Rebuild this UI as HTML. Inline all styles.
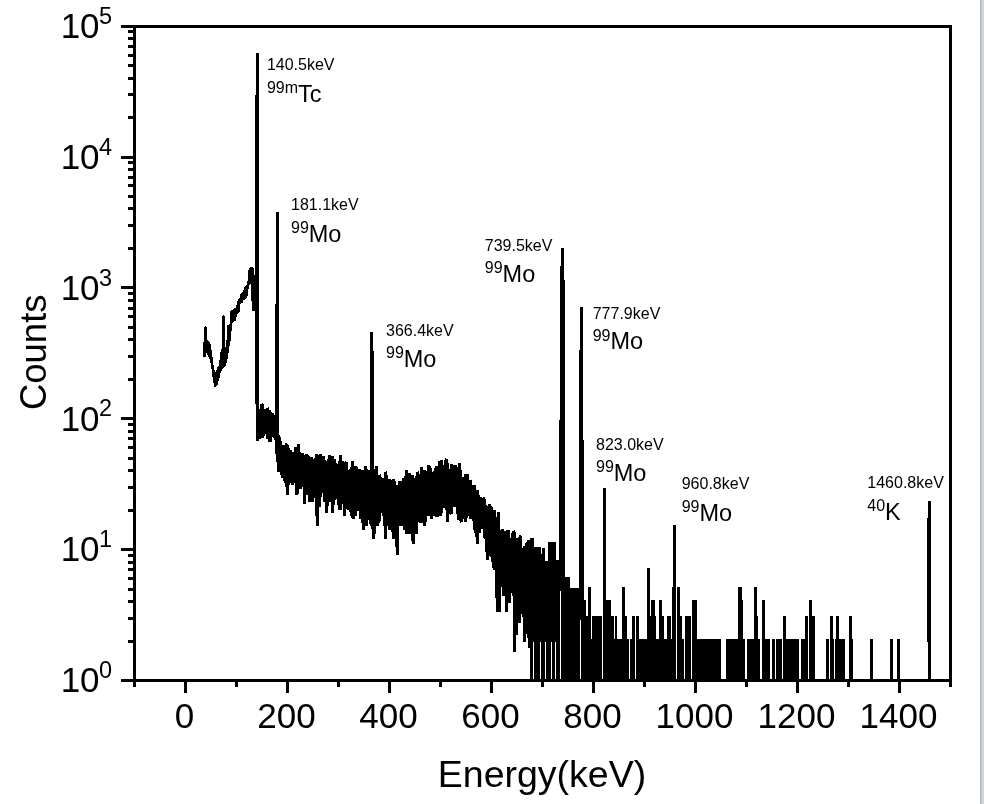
<!DOCTYPE html><html><head><meta charset="utf-8"><style>html,body{margin:0;padding:0;background:#fff;width:984px;height:804px;overflow:hidden}</style></head><body><svg width="984" height="804" viewBox="0 0 984 804" style="display:block;will-change:transform"><rect x="0" y="0" width="984" height="804" fill="#fff"/><rect x="980" y="0" width="1" height="804" fill="#b5b6b8"/><rect x="981" y="0" width="1" height="804" fill="#c4c6c8"/><rect x="982" y="0" width="2" height="804" fill="#d3d6d9"/><defs><clipPath id="pc"><rect x="134" y="26" width="816" height="654"/></clipPath></defs><path clip-path="url(#pc)" d="M257.5 441.0 257.5 409.8 L258.5 410.3 258.5 435.3 L259.5 439.3 259.5 412.3 L260.5 413.3 260.5 431.6 L261.5 433.8 261.5 404.2 L262.5 405.5 262.5 437.7 L263.5 433.8 263.5 411.3 L264.5 410.8 264.5 426.8 L265.5 432.3 265.5 413.3 L266.5 409.8 266.5 429.5 L267.5 438.5 267.5 407.8 L268.5 411.8 268.5 433.1 L269.5 441.8 269.5 410.8 L270.5 413.8 270.5 441.8 L271.5 431.6 271.5 415.4 L272.5 414.9 272.5 434.6 L273.5 434.6 273.5 418.2 L274.5 420.5 274.5 436.1 L275.5 439.3 275.5 414.9 L276.5 419.9 276.5 445.4 L277.5 462.3 277.5 428.8 L278.5 441.0 278.5 471.7 L279.5 463.6 279.5 437.7 L280.5 443.6 280.5 468.9 L281.5 474.7 281.5 446.3 L282.5 447.2 282.5 477.9 L283.5 466.2 283.5 447.2 L284.5 445.4 284.5 479.5 L285.5 483.0 285.5 448.2 L286.5 443.6 286.5 479.5 L287.5 494.8 287.5 445.4 L288.5 450.2 288.5 484.8 L289.5 477.9 289.5 451.2 L290.5 450.2 290.5 479.5 L291.5 483.0 291.5 452.2 L292.5 454.3 292.5 484.8 L293.5 477.9 293.5 452.2 L294.5 454.3 294.5 479.5 L295.5 483.0 295.5 448.2 L296.5 448.2 296.5 494.8 L297.5 492.6 297.5 458.8 L298.5 444.5 298.5 477.9 L299.5 474.7 299.5 452.2 L300.5 461.1 300.5 488.6 L301.5 483.0 301.5 456.5 L302.5 453.2 302.5 484.8 L303.5 486.6 303.5 455.4 L304.5 463.6 304.5 504.3 L305.5 484.8 305.5 459.9 L306.5 454.3 306.5 492.6 L307.5 494.8 307.5 455.4 L308.5 457.6 308.5 488.6 L309.5 501.7 309.5 463.6 L310.5 457.6 310.5 494.8 L311.5 486.6 311.5 457.6 L312.5 464.9 312.5 501.7 L313.5 494.8 313.5 466.2 L314.5 458.8 314.5 497.0 L315.5 488.6 315.5 461.1 L316.5 454.3 316.5 504.3 L317.5 526.0 317.5 455.4 L318.5 457.6 318.5 494.8 L319.5 506.9 319.5 459.9 L320.5 454.3 320.5 497.0 L321.5 486.6 321.5 458.8 L322.5 466.2 322.5 492.6 L323.5 488.6 323.5 456.5 L324.5 463.6 324.5 501.7 L325.5 494.8 325.5 464.9 L326.5 464.9 326.5 512.6 L327.5 499.3 327.5 463.6 L328.5 458.8 328.5 494.8 L329.5 490.6 329.5 455.4 L330.5 463.6 330.5 501.7 L331.5 499.3 331.5 466.2 L332.5 456.5 332.5 512.6 L333.5 497.0 333.5 466.2 L334.5 458.8 334.5 497.0 L335.5 499.3 335.5 468.9 L336.5 463.6 336.5 492.6 L337.5 499.3 337.5 467.5 L338.5 468.9 338.5 499.3 L339.5 509.7 339.5 467.5 L340.5 455.4 340.5 509.7 L341.5 499.3 341.5 467.5 L342.5 461.1 342.5 494.8 L343.5 499.3 343.5 470.3 L344.5 467.5 344.5 515.7 L345.5 501.7 345.5 463.6 L346.5 462.3 346.5 504.3 L347.5 501.7 347.5 473.2 L348.5 474.7 348.5 509.7 L349.5 506.9 349.5 471.7 L350.5 470.3 350.5 506.9 L351.5 515.7 351.5 473.2 L352.5 461.1 352.5 515.7 L353.5 518.9 353.5 467.5 L354.5 471.7 354.5 501.7 L355.5 515.7 355.5 466.2 L356.5 468.9 356.5 509.7 L357.5 509.7 357.5 471.7 L358.5 471.7 358.5 504.3 L359.5 501.7 359.5 468.9 L360.5 473.2 360.5 518.9 L361.5 512.6 361.5 471.7 L362.5 471.7 362.5 515.7 L363.5 530.0 363.5 473.2 L364.5 476.3 364.5 509.7 L365.5 506.9 365.5 466.2 L366.5 471.7 366.5 526.0 L367.5 506.9 367.5 477.9 L368.5 479.5 368.5 518.9 L369.5 518.9 369.5 470.3 L370.5 477.9 370.5 522.4 L371.5 526.0 371.5 473.2 L372.5 477.9 372.5 518.9 L373.5 538.7 373.5 484.8 L374.5 479.5 374.5 534.2 L375.5 518.9 375.5 473.2 L376.5 466.2 376.5 515.7 L377.5 526.0 377.5 481.2 L378.5 477.9 378.5 522.4 L379.5 518.9 379.5 474.7 L380.5 479.5 380.5 512.6 L381.5 509.7 381.5 479.5 L382.5 483.0 382.5 509.7 L383.5 515.7 383.5 479.5 L384.5 479.5 384.5 512.6 L385.5 538.7 385.5 471.7 L386.5 477.9 386.5 526.0 L387.5 522.4 387.5 484.8 L388.5 483.0 388.5 515.7 L389.5 530.0 389.5 479.5 L390.5 483.0 390.5 526.0 L391.5 526.0 391.5 481.2 L392.5 481.2 392.5 526.0 L393.5 538.7 393.5 479.5 L394.5 483.0 394.5 526.0 L395.5 534.2 395.5 492.6 L396.5 484.8 396.5 538.7 L397.5 555.1 397.5 488.6 L398.5 490.6 398.5 515.7 L399.5 526.0 399.5 481.2 L400.5 484.8 400.5 522.4 L401.5 526.0 401.5 481.2 L402.5 488.6 402.5 522.4 L403.5 522.4 403.5 477.9 L404.5 481.2 404.5 530.0 L405.5 518.9 405.5 483.0 L406.5 470.3 406.5 534.2 L407.5 526.0 407.5 479.5 L408.5 488.6 408.5 534.2 L409.5 518.9 409.5 473.2 L410.5 476.3 410.5 506.9 L411.5 534.2 411.5 481.2 L412.5 474.7 412.5 538.7 L413.5 543.7 413.5 477.9 L414.5 483.0 414.5 526.0 L415.5 512.6 415.5 479.5 L416.5 476.3 416.5 534.2 L417.5 506.9 417.5 471.7 L418.5 476.3 418.5 522.4 L419.5 512.6 419.5 481.2 L420.5 476.3 420.5 522.4 L421.5 518.9 421.5 467.5 L422.5 476.3 422.5 515.7 L423.5 522.4 423.5 477.9 L424.5 470.3 424.5 526.0 L425.5 518.9 425.5 476.3 L426.5 473.2 426.5 506.9 L427.5 506.9 427.5 477.9 L428.5 464.9 428.5 515.7 L429.5 512.6 429.5 466.2 L430.5 470.3 430.5 512.6 L431.5 518.9 431.5 473.2 L432.5 473.2 432.5 515.7 L433.5 504.3 433.5 473.2 L434.5 471.7 434.5 515.7 L435.5 501.7 435.5 470.3 L436.5 466.2 436.5 515.7 L437.5 515.7 437.5 471.7 L438.5 479.5 438.5 515.7 L439.5 499.3 439.5 461.1 L440.5 476.3 440.5 515.7 L441.5 509.7 441.5 459.9 L442.5 470.3 442.5 506.9 L443.5 506.9 443.5 470.3 L444.5 464.9 444.5 494.8 L445.5 506.9 445.5 462.3 L446.5 458.8 446.5 497.0 L447.5 522.4 447.5 463.6 L448.5 474.7 448.5 509.7 L449.5 504.3 449.5 468.9 L450.5 471.7 450.5 512.6 L451.5 513.6 451.5 464.6 L452.5 465.9 452.5 504.1 L453.5 503.0 453.5 479.9 L454.5 473.9 454.5 506.7 L455.5 501.1 455.5 465.1 L456.5 468.9 456.5 500.4 L457.5 513.5 457.5 471.6 L458.5 471.9 458.5 520.4 L459.5 511.6 459.5 463.4 L460.5 477.4 460.5 513.2 L461.5 522.4 461.5 477.8 L462.5 478.3 462.5 503.8 L463.5 507.4 463.5 486.4 L464.5 479.4 464.5 515.4 L465.5 521.8 465.5 473.6 L466.5 486.7 466.5 517.0 L467.5 514.9 467.5 474.5 L468.5 488.3 468.5 513.1 L469.5 510.0 469.5 483.7 L470.5 479.9 470.5 517.4 L471.5 517.0 471.5 488.3 L472.5 488.3 472.5 515.2 L473.5 520.6 473.5 486.2 L474.5 486.2 474.5 526.6 L475.5 533.3 475.5 496.3 L476.5 490.5 476.5 528.8 L477.5 543.7 477.5 490.5 L478.5 498.9 478.5 526.6 L479.5 533.3 479.5 498.9 L480.5 498.9 480.5 526.6 L481.5 528.8 481.5 500.2 L482.5 504.3 482.5 526.6 L483.5 528.8 483.5 497.6 L484.5 501.5 484.5 538.3 L485.5 535.7 485.5 505.7 L486.5 507.2 486.5 543.7 L487.5 560.0 487.5 513.5 L488.5 510.3 488.5 535.7 L489.5 556.4 489.5 504.3 L490.5 507.2 490.5 546.6 L491.5 556.4 491.5 507.2 L492.5 513.5 492.5 556.4 L493.5 568.2 493.5 513.5 L494.5 510.3 494.5 568.2 L495.5 568.2 495.5 522.6 L496.5 517.0 496.5 583.1 L497.5 612.1 497.5 524.6 L498.5 511.9 498.5 583.1 L499.5 612.1 499.5 531.0 L500.5 531.0 500.5 583.1 L501.5 577.7 501.5 538.3 L502.5 528.8 502.5 577.7 L503.5 595.8 503.5 533.3 L504.5 533.3 504.5 589.1 L505.5 583.1 505.5 531.0 L506.5 533.3 506.5 612.1 L507.5 583.1 507.5 531.0 L508.5 531.0 508.5 589.1 L509.5 603.4 509.5 540.9 L510.5 538.3 510.5 589.1 L511.5 589.1 511.5 543.7 L512.5 533.3 512.5 589.1 L513.5 595.8 513.5 531.0 L514.5 533.3 514.5 651.5 L515.5 595.8 515.5 549.7 L516.5 538.3 516.5 635.2 L517.5 612.1 517.5 556.4 L518.5 540.9 518.5 595.8 L519.5 622.5 519.5 538.3 L520.5 535.7 520.5 603.4 L521.5 612.1 521.5 549.7 L522.5 551.1 522.5 610.3 L523.5 616.4 523.5 550.3 L524.5 546.4 524.5 641.5 L525.5 608.8 525.5 554.5 L526.5 542.9 526.5 634.3 L527.5 602.0 527.5 543.5 L528.5 540.4 528.5 628.0 L529.5 648.1 529.5 546.2" fill="none" stroke="#000" stroke-width="3.00" stroke-linejoin="miter" stroke-miterlimit="2" shape-rendering="crispEdges"/><g fill="#000" shape-rendering="crispEdges"><rect x="203" y="342" width="1" height="15"/><rect x="204" y="327" width="1" height="30"/><rect x="205" y="326" width="1" height="31"/><rect x="206" y="327" width="1" height="26"/><rect x="207" y="340" width="1" height="15"/><rect x="208" y="341" width="1" height="16"/><rect x="209" y="342" width="1" height="17"/><rect x="210" y="344" width="1" height="19"/><rect x="211" y="350" width="1" height="19"/><rect x="212" y="357" width="1" height="20"/><rect x="213" y="365" width="1" height="18"/><rect x="214" y="370" width="1" height="17"/><rect x="215" y="372" width="1" height="15"/><rect x="216" y="370" width="1" height="16"/><rect x="217" y="367" width="1" height="18"/><rect x="218" y="366" width="1" height="15"/><rect x="219" y="360" width="1" height="18"/><rect x="220" y="352" width="1" height="21"/><rect x="221" y="349" width="1" height="22"/><rect x="222" y="316" width="1" height="53"/><rect x="223" y="315" width="1" height="53"/><rect x="224" y="316" width="1" height="51"/><rect x="225" y="347" width="1" height="19"/><rect x="226" y="340" width="1" height="23"/><rect x="227" y="325" width="1" height="34"/><rect x="228" y="325" width="1" height="28"/><rect x="229" y="324" width="1" height="22"/><rect x="230" y="311" width="1" height="30"/><rect x="231" y="310" width="1" height="21"/><rect x="232" y="310" width="1" height="13"/><rect x="233" y="309" width="1" height="13"/><rect x="234" y="308" width="1" height="13"/><rect x="235" y="308" width="1" height="13"/><rect x="236" y="305" width="1" height="12"/><rect x="237" y="301" width="1" height="13"/><rect x="238" y="299" width="1" height="14"/><rect x="239" y="298" width="1" height="14"/><rect x="240" y="294" width="1" height="10"/><rect x="241" y="293" width="1" height="10"/><rect x="242" y="292" width="1" height="11"/><rect x="243" y="290" width="1" height="10"/><rect x="244" y="287" width="1" height="13"/><rect x="245" y="286" width="1" height="13"/><rect x="246" y="285" width="1" height="13"/><rect x="247" y="281" width="1" height="15"/><rect x="248" y="270" width="1" height="19"/><rect x="249" y="268" width="1" height="17"/><rect x="250" y="267" width="1" height="17"/><rect x="251" y="267" width="1" height="34"/><rect x="252" y="267" width="1" height="44"/><rect x="253" y="268" width="1" height="43"/><rect x="254" y="275" width="1" height="36"/><rect x="530" y="538" width="1" height="144"/><rect x="531" y="538" width="1" height="144"/><rect x="532" y="538" width="1" height="144"/><rect x="533" y="538" width="1" height="104"/><rect x="534" y="547" width="1" height="135"/><rect x="535" y="547" width="1" height="135"/><rect x="536" y="547" width="1" height="135"/><rect x="537" y="547" width="1" height="135"/><rect x="538" y="547" width="1" height="135"/><rect x="539" y="547" width="1" height="135"/><rect x="540" y="547" width="1" height="95"/><rect x="541" y="554" width="1" height="128"/><rect x="542" y="548" width="1" height="134"/><rect x="543" y="548" width="1" height="134"/><rect x="544" y="548" width="1" height="134"/><rect x="545" y="561" width="1" height="81"/><rect x="546" y="561" width="1" height="121"/><rect x="547" y="561" width="1" height="121"/><rect x="548" y="542" width="1" height="140"/><rect x="549" y="542" width="1" height="140"/><rect x="550" y="542" width="1" height="140"/><rect x="551" y="542" width="1" height="100"/><rect x="552" y="542" width="1" height="140"/><rect x="553" y="542" width="1" height="140"/><rect x="554" y="542" width="1" height="140"/><rect x="555" y="542" width="1" height="100"/><rect x="556" y="560" width="1" height="122"/><rect x="557" y="560" width="1" height="122"/><rect x="558" y="560" width="1" height="122"/><rect x="559" y="420" width="1" height="262"/><rect x="560" y="266" width="1" height="325"/><rect x="561" y="248" width="1" height="434"/><rect x="562" y="248" width="1" height="434"/><rect x="563" y="248" width="1" height="434"/><rect x="564" y="280" width="1" height="402"/><rect x="565" y="577" width="1" height="105"/><rect x="566" y="577" width="1" height="105"/><rect x="567" y="577" width="1" height="105"/><rect x="568" y="577" width="1" height="105"/><rect x="569" y="577" width="1" height="105"/><rect x="570" y="588" width="1" height="94"/><rect x="571" y="588" width="1" height="94"/><rect x="572" y="588" width="1" height="94"/><rect x="573" y="588" width="1" height="94"/><rect x="574" y="588" width="1" height="94"/><rect x="575" y="588" width="1" height="94"/><rect x="576" y="588" width="1" height="94"/><rect x="577" y="588" width="1" height="94"/><rect x="578" y="588" width="1" height="94"/><rect x="579" y="350" width="1" height="332"/><rect x="580" y="307" width="1" height="313"/><rect x="581" y="307" width="1" height="375"/><rect x="582" y="307" width="1" height="375"/><rect x="583" y="440" width="1" height="242"/><rect x="584" y="600" width="1" height="82"/><rect x="585" y="600" width="1" height="82"/><rect x="586" y="616" width="1" height="66"/><rect x="587" y="616" width="1" height="66"/><rect x="588" y="587" width="1" height="95"/><rect x="589" y="587" width="1" height="95"/><rect x="590" y="587" width="1" height="95"/><rect x="591" y="639" width="1" height="43"/><rect x="592" y="616" width="1" height="66"/><rect x="593" y="616" width="1" height="66"/><rect x="594" y="616" width="1" height="66"/><rect x="595" y="616" width="1" height="66"/><rect x="596" y="616" width="1" height="66"/><rect x="597" y="616" width="1" height="66"/><rect x="598" y="616" width="1" height="66"/><rect x="599" y="616" width="1" height="66"/><rect x="600" y="616" width="1" height="66"/><rect x="601" y="616" width="1" height="66"/><rect x="603" y="488" width="1" height="194"/><rect x="604" y="488" width="1" height="194"/><rect x="605" y="488" width="1" height="194"/><rect x="606" y="600" width="1" height="82"/><rect x="607" y="600" width="1" height="82"/><rect x="608" y="600" width="1" height="82"/><rect x="609" y="600" width="1" height="82"/><rect x="610" y="600" width="1" height="82"/><rect x="611" y="616" width="1" height="66"/><rect x="612" y="616" width="1" height="66"/><rect x="613" y="616" width="1" height="66"/><rect x="614" y="639" width="1" height="43"/><rect x="615" y="616" width="1" height="66"/><rect x="616" y="616" width="1" height="66"/><rect x="617" y="639" width="1" height="43"/><rect x="618" y="639" width="1" height="43"/><rect x="619" y="639" width="1" height="43"/><rect x="620" y="639" width="1" height="43"/><rect x="621" y="639" width="1" height="43"/><rect x="622" y="587" width="1" height="95"/><rect x="623" y="587" width="1" height="95"/><rect x="624" y="587" width="1" height="95"/><rect x="625" y="616" width="1" height="66"/><rect x="626" y="616" width="1" height="66"/><rect x="627" y="639" width="1" height="43"/><rect x="628" y="639" width="1" height="43"/><rect x="630" y="639" width="1" height="43"/><rect x="631" y="639" width="1" height="43"/><rect x="632" y="616" width="1" height="66"/><rect x="633" y="616" width="1" height="66"/><rect x="634" y="616" width="1" height="66"/><rect x="636" y="616" width="1" height="66"/><rect x="637" y="616" width="1" height="66"/><rect x="638" y="616" width="1" height="66"/><rect x="639" y="639" width="1" height="43"/><rect x="640" y="639" width="1" height="43"/><rect x="641" y="639" width="1" height="43"/><rect x="642" y="639" width="1" height="43"/><rect x="643" y="639" width="1" height="43"/><rect x="644" y="639" width="1" height="43"/><rect x="645" y="639" width="1" height="43"/><rect x="646" y="639" width="1" height="43"/><rect x="647" y="568" width="1" height="114"/><rect x="648" y="568" width="1" height="114"/><rect x="649" y="568" width="1" height="114"/><rect x="650" y="616" width="1" height="66"/><rect x="651" y="600" width="1" height="82"/><rect x="652" y="600" width="1" height="82"/><rect x="653" y="600" width="1" height="82"/><rect x="654" y="600" width="1" height="82"/><rect x="655" y="616" width="1" height="66"/><rect x="656" y="639" width="1" height="43"/><rect x="657" y="639" width="1" height="43"/><rect x="658" y="639" width="1" height="43"/><rect x="659" y="600" width="1" height="82"/><rect x="660" y="600" width="1" height="82"/><rect x="661" y="600" width="1" height="82"/><rect x="662" y="616" width="1" height="66"/><rect x="663" y="616" width="1" height="66"/><rect x="664" y="639" width="1" height="43"/><rect x="665" y="639" width="1" height="43"/><rect x="666" y="639" width="1" height="43"/><rect x="667" y="616" width="1" height="66"/><rect x="668" y="616" width="1" height="66"/><rect x="669" y="616" width="1" height="66"/><rect x="670" y="616" width="1" height="66"/><rect x="671" y="639" width="1" height="43"/><rect x="672" y="587" width="1" height="95"/><rect x="673" y="525" width="1" height="157"/><rect x="674" y="525" width="1" height="157"/><rect x="675" y="525" width="1" height="157"/><rect x="677" y="587" width="1" height="95"/><rect x="678" y="587" width="1" height="95"/><rect x="679" y="587" width="1" height="95"/><rect x="680" y="616" width="1" height="66"/><rect x="681" y="616" width="1" height="66"/><rect x="682" y="639" width="1" height="43"/><rect x="683" y="639" width="1" height="43"/><rect x="685" y="616" width="1" height="66"/><rect x="686" y="616" width="1" height="66"/><rect x="687" y="616" width="1" height="66"/><rect x="688" y="616" width="1" height="66"/><rect x="689" y="616" width="1" height="66"/><rect x="690" y="616" width="1" height="66"/><rect x="692" y="600" width="1" height="82"/><rect x="693" y="600" width="1" height="82"/><rect x="694" y="600" width="1" height="82"/><rect x="695" y="600" width="1" height="82"/><rect x="696" y="600" width="1" height="82"/><rect x="697" y="639" width="1" height="43"/><rect x="698" y="639" width="1" height="43"/><rect x="699" y="639" width="1" height="43"/><rect x="700" y="639" width="1" height="43"/><rect x="701" y="639" width="1" height="43"/><rect x="702" y="639" width="1" height="43"/><rect x="703" y="639" width="1" height="43"/><rect x="704" y="639" width="1" height="43"/><rect x="705" y="639" width="1" height="43"/><rect x="706" y="639" width="1" height="43"/><rect x="707" y="639" width="1" height="43"/><rect x="708" y="639" width="1" height="43"/><rect x="709" y="639" width="1" height="43"/><rect x="710" y="639" width="1" height="43"/><rect x="711" y="639" width="1" height="43"/><rect x="712" y="639" width="1" height="43"/><rect x="713" y="639" width="1" height="43"/><rect x="714" y="639" width="1" height="43"/><rect x="715" y="639" width="1" height="43"/><rect x="716" y="639" width="1" height="43"/><rect x="717" y="639" width="1" height="43"/><rect x="718" y="639" width="1" height="43"/><rect x="719" y="639" width="1" height="43"/><rect x="720" y="639" width="1" height="43"/><rect x="726" y="639" width="1" height="43"/><rect x="727" y="639" width="1" height="43"/><rect x="728" y="639" width="1" height="43"/><rect x="729" y="639" width="1" height="43"/><rect x="730" y="639" width="1" height="43"/><rect x="731" y="639" width="1" height="43"/><rect x="732" y="639" width="1" height="43"/><rect x="733" y="639" width="1" height="43"/><rect x="734" y="639" width="1" height="43"/><rect x="735" y="639" width="1" height="43"/><rect x="736" y="639" width="1" height="43"/><rect x="737" y="639" width="1" height="43"/><rect x="738" y="587" width="1" height="95"/><rect x="739" y="587" width="1" height="95"/><rect x="740" y="587" width="1" height="95"/><rect x="741" y="587" width="1" height="95"/><rect x="742" y="600" width="1" height="82"/><rect x="743" y="639" width="1" height="43"/><rect x="744" y="639" width="1" height="43"/><rect x="747" y="639" width="1" height="43"/><rect x="748" y="639" width="1" height="43"/><rect x="749" y="639" width="1" height="43"/><rect x="750" y="639" width="1" height="43"/><rect x="751" y="639" width="1" height="43"/><rect x="752" y="639" width="1" height="43"/><rect x="753" y="639" width="1" height="43"/><rect x="754" y="587" width="1" height="95"/><rect x="755" y="587" width="1" height="95"/><rect x="756" y="587" width="1" height="95"/><rect x="757" y="616" width="1" height="66"/><rect x="758" y="639" width="1" height="43"/><rect x="759" y="639" width="1" height="43"/><rect x="762" y="600" width="1" height="82"/><rect x="763" y="600" width="1" height="82"/><rect x="764" y="600" width="1" height="82"/><rect x="765" y="639" width="1" height="43"/><rect x="766" y="639" width="1" height="43"/><rect x="767" y="639" width="1" height="43"/><rect x="768" y="639" width="1" height="43"/><rect x="769" y="639" width="1" height="43"/><rect x="772" y="639" width="1" height="43"/><rect x="773" y="639" width="1" height="43"/><rect x="774" y="639" width="1" height="43"/><rect x="776" y="639" width="1" height="43"/><rect x="777" y="639" width="1" height="43"/><rect x="778" y="639" width="1" height="43"/><rect x="779" y="639" width="1" height="43"/><rect x="780" y="639" width="1" height="43"/><rect x="781" y="639" width="1" height="43"/><rect x="783" y="616" width="1" height="66"/><rect x="784" y="616" width="1" height="66"/><rect x="785" y="616" width="1" height="66"/><rect x="786" y="639" width="1" height="43"/><rect x="787" y="639" width="1" height="43"/><rect x="788" y="639" width="1" height="43"/><rect x="789" y="639" width="1" height="43"/><rect x="790" y="639" width="1" height="43"/><rect x="791" y="639" width="1" height="43"/><rect x="792" y="639" width="1" height="43"/><rect x="793" y="639" width="1" height="43"/><rect x="794" y="639" width="1" height="43"/><rect x="795" y="639" width="1" height="43"/><rect x="796" y="639" width="1" height="43"/><rect x="797" y="639" width="1" height="43"/><rect x="798" y="639" width="1" height="43"/><rect x="801" y="639" width="1" height="43"/><rect x="802" y="639" width="1" height="43"/><rect x="803" y="639" width="1" height="43"/><rect x="804" y="639" width="1" height="43"/><rect x="805" y="616" width="1" height="66"/><rect x="806" y="616" width="1" height="66"/><rect x="807" y="616" width="1" height="66"/><rect x="809" y="600" width="1" height="82"/><rect x="810" y="600" width="1" height="82"/><rect x="811" y="600" width="1" height="82"/><rect x="812" y="616" width="1" height="66"/><rect x="813" y="616" width="1" height="66"/><rect x="814" y="616" width="1" height="66"/><rect x="826" y="639" width="1" height="43"/><rect x="827" y="639" width="1" height="43"/><rect x="828" y="639" width="1" height="43"/><rect x="830" y="616" width="1" height="66"/><rect x="831" y="616" width="1" height="66"/><rect x="832" y="616" width="1" height="66"/><rect x="833" y="639" width="1" height="43"/><rect x="835" y="639" width="1" height="43"/><rect x="836" y="616" width="1" height="66"/><rect x="837" y="616" width="1" height="66"/><rect x="838" y="616" width="1" height="66"/><rect x="839" y="639" width="1" height="43"/><rect x="840" y="639" width="1" height="43"/><rect x="841" y="639" width="1" height="43"/><rect x="842" y="639" width="1" height="43"/><rect x="843" y="639" width="1" height="43"/><rect x="844" y="639" width="1" height="43"/><rect x="849" y="616" width="1" height="66"/><rect x="850" y="616" width="1" height="66"/><rect x="851" y="616" width="1" height="66"/><rect x="852" y="639" width="1" height="43"/><rect x="870" y="639" width="1" height="43"/><rect x="871" y="639" width="1" height="43"/><rect x="872" y="639" width="1" height="43"/><rect x="890" y="639" width="1" height="43"/><rect x="891" y="639" width="1" height="43"/><rect x="892" y="639" width="1" height="43"/><rect x="897" y="639" width="1" height="43"/><rect x="898" y="639" width="1" height="43"/><rect x="899" y="639" width="1" height="43"/><rect x="927" y="518" width="1" height="124"/><rect x="928" y="501" width="1" height="181"/><rect x="929" y="501" width="1" height="181"/><rect x="930" y="501" width="1" height="181"/><rect x="255" y="95" width="1" height="309"/><rect x="256" y="53" width="1" height="388"/><rect x="257" y="53" width="1" height="388"/><rect x="258" y="53" width="1" height="388"/><rect x="276" y="212" width="1" height="234"/><rect x="277" y="212" width="1" height="234"/><rect x="278" y="212" width="1" height="234"/><rect x="275" y="304" width="1" height="137"/><rect x="370" y="332" width="1" height="169"/><rect x="371" y="332" width="1" height="169"/><rect x="372" y="332" width="1" height="169"/><rect x="373" y="351" width="1" height="150"/></g><rect x="121" y="25" width="830" height="3" fill="#000"/><rect x="121" y="679" width="830" height="3" fill="#000"/><rect x="133" y="25" width="3" height="662" fill="#000"/><rect x="949" y="25" width="3" height="662" fill="#000"/><rect x="128" y="640" width="6" height="3" fill="#000"/><rect x="128" y="617" width="6" height="3" fill="#000"/><rect x="128" y="600" width="6" height="3" fill="#000"/><rect x="128" y="588" width="6" height="3" fill="#000"/><rect x="128" y="577" width="6" height="3" fill="#000"/><rect x="128" y="568" width="6" height="3" fill="#000"/><rect x="128" y="561" width="6" height="3" fill="#000"/><rect x="128" y="554" width="6" height="3" fill="#000"/><rect x="128" y="509" width="6" height="3" fill="#000"/><rect x="128" y="486" width="6" height="3" fill="#000"/><rect x="128" y="469" width="6" height="3" fill="#000"/><rect x="128" y="457" width="6" height="3" fill="#000"/><rect x="128" y="446" width="6" height="3" fill="#000"/><rect x="128" y="437" width="6" height="3" fill="#000"/><rect x="128" y="430" width="6" height="3" fill="#000"/><rect x="128" y="423" width="6" height="3" fill="#000"/><rect x="128" y="378" width="6" height="3" fill="#000"/><rect x="128" y="355" width="6" height="3" fill="#000"/><rect x="128" y="338" width="6" height="3" fill="#000"/><rect x="128" y="326" width="6" height="3" fill="#000"/><rect x="128" y="315" width="6" height="3" fill="#000"/><rect x="128" y="307" width="6" height="3" fill="#000"/><rect x="128" y="299" width="6" height="3" fill="#000"/><rect x="128" y="292" width="6" height="3" fill="#000"/><rect x="128" y="247" width="6" height="3" fill="#000"/><rect x="128" y="224" width="6" height="3" fill="#000"/><rect x="128" y="207" width="6" height="3" fill="#000"/><rect x="128" y="195" width="6" height="3" fill="#000"/><rect x="128" y="184" width="6" height="3" fill="#000"/><rect x="128" y="176" width="6" height="3" fill="#000"/><rect x="128" y="168" width="6" height="3" fill="#000"/><rect x="128" y="161" width="6" height="3" fill="#000"/><rect x="128" y="116" width="6" height="3" fill="#000"/><rect x="128" y="93" width="6" height="3" fill="#000"/><rect x="128" y="77" width="6" height="3" fill="#000"/><rect x="128" y="64" width="6" height="3" fill="#000"/><rect x="128" y="54" width="6" height="3" fill="#000"/><rect x="128" y="45" width="6" height="3" fill="#000"/><rect x="128" y="37" width="6" height="3" fill="#000"/><rect x="128" y="30" width="6" height="3" fill="#000"/><rect x="121" y="548" width="13" height="3" fill="#000"/><rect x="121" y="417" width="13" height="3" fill="#000"/><rect x="121" y="286" width="13" height="3" fill="#000"/><rect x="121" y="156" width="13" height="3" fill="#000"/><rect x="184" y="681" width="3" height="12" fill="#000"/><rect x="235" y="681" width="3" height="6" fill="#000"/><rect x="286" y="681" width="3" height="12" fill="#000"/><rect x="337" y="681" width="3" height="6" fill="#000"/><rect x="388" y="681" width="3" height="12" fill="#000"/><rect x="439" y="681" width="3" height="6" fill="#000"/><rect x="490" y="681" width="3" height="12" fill="#000"/><rect x="541" y="681" width="3" height="6" fill="#000"/><rect x="592" y="681" width="3" height="12" fill="#000"/><rect x="643" y="681" width="3" height="6" fill="#000"/><rect x="694" y="681" width="3" height="12" fill="#000"/><rect x="745" y="681" width="3" height="6" fill="#000"/><rect x="796" y="681" width="3" height="12" fill="#000"/><rect x="847" y="681" width="3" height="6" fill="#000"/><rect x="898" y="681" width="3" height="12" fill="#000"/><text x="184.5" y="727.6" font-size="35" text-anchor="middle" font-family="Liberation Sans, sans-serif">0</text><text x="286.5" y="727.6" font-size="35" text-anchor="middle" font-family="Liberation Sans, sans-serif">200</text><text x="388.5" y="727.6" font-size="35" text-anchor="middle" font-family="Liberation Sans, sans-serif">400</text><text x="490.5" y="727.6" font-size="35" text-anchor="middle" font-family="Liberation Sans, sans-serif">600</text><text x="592.5" y="727.6" font-size="35" text-anchor="middle" font-family="Liberation Sans, sans-serif">800</text><text x="694.5" y="727.6" font-size="35" text-anchor="middle" font-family="Liberation Sans, sans-serif">1000</text><text x="796.5" y="727.6" font-size="35" text-anchor="middle" font-family="Liberation Sans, sans-serif">1200</text><text x="898.5" y="727.6" font-size="35" text-anchor="middle" font-family="Liberation Sans, sans-serif">1400</text><text x="99.6" y="692.3" font-size="35" text-anchor="end" font-family="Liberation Sans, sans-serif">10</text><text x="99.1" y="678.2" font-size="23.5" font-family="Liberation Sans, sans-serif">0</text><text x="99.6" y="561.4" font-size="35" text-anchor="end" font-family="Liberation Sans, sans-serif">10</text><text x="99.1" y="547.3" font-size="23.5" font-family="Liberation Sans, sans-serif">1</text><text x="99.6" y="430.5" font-size="35" text-anchor="end" font-family="Liberation Sans, sans-serif">10</text><text x="99.1" y="416.4" font-size="23.5" font-family="Liberation Sans, sans-serif">2</text><text x="99.6" y="299.6" font-size="35" text-anchor="end" font-family="Liberation Sans, sans-serif">10</text><text x="99.1" y="285.5" font-size="23.5" font-family="Liberation Sans, sans-serif">3</text><text x="99.6" y="168.7" font-size="35" text-anchor="end" font-family="Liberation Sans, sans-serif">10</text><text x="99.1" y="154.6" font-size="23.5" font-family="Liberation Sans, sans-serif">4</text><text x="99.6" y="37.8" font-size="35" text-anchor="end" font-family="Liberation Sans, sans-serif">10</text><text x="99.1" y="23.7" font-size="23.5" font-family="Liberation Sans, sans-serif">5</text><text x="437.8" y="787" font-size="37.5" font-family="Liberation Sans, sans-serif">Energy(keV)</text><text transform="translate(45.8,410.1) rotate(-90)" font-size="36.5" font-family="Liberation Sans, sans-serif">Counts</text><text x="266.9" y="69.9" font-size="16" font-family="Liberation Sans, sans-serif">140.5keV</text><text x="266.9" y="92.7" font-size="16" font-family="Liberation Sans, sans-serif">99m<tspan font-size="23.5" dy="8.9">Tc</tspan></text><text x="291.0" y="209.8" font-size="16" font-family="Liberation Sans, sans-serif">181.1keV</text><text x="291.0" y="232.9" font-size="16" font-family="Liberation Sans, sans-serif">99<tspan font-size="23.5" dy="8.9">Mo</tspan></text><text x="386.0" y="335.8" font-size="16" font-family="Liberation Sans, sans-serif">366.4keV</text><text x="386.0" y="357.9" font-size="16" font-family="Liberation Sans, sans-serif">99<tspan font-size="23.5" dy="8.9">Mo</tspan></text><text x="484.8" y="251.0" font-size="16" font-family="Liberation Sans, sans-serif">739.5keV</text><text x="484.8" y="273.0" font-size="16" font-family="Liberation Sans, sans-serif">99<tspan font-size="23.5" dy="8.9">Mo</tspan></text><text x="592.7" y="318.9" font-size="16" font-family="Liberation Sans, sans-serif">777.9keV</text><text x="592.7" y="340.5" font-size="16" font-family="Liberation Sans, sans-serif">99<tspan font-size="23.5" dy="8.9">Mo</tspan></text><text x="596.0" y="449.8" font-size="16" font-family="Liberation Sans, sans-serif">823.0keV</text><text x="596.0" y="472.0" font-size="16" font-family="Liberation Sans, sans-serif">99<tspan font-size="23.5" dy="8.9">Mo</tspan></text><text x="681.7" y="489.0" font-size="16" font-family="Liberation Sans, sans-serif">960.8keV</text><text x="681.7" y="511.6" font-size="16" font-family="Liberation Sans, sans-serif">99<tspan font-size="23.5" dy="8.9">Mo</tspan></text><text x="867.3" y="487.9" font-size="16" font-family="Liberation Sans, sans-serif">1460.8keV</text><text x="867.3" y="510.9" font-size="16" font-family="Liberation Sans, sans-serif">40<tspan font-size="23.5" dy="8.9">K</tspan></text></svg></body></html>
